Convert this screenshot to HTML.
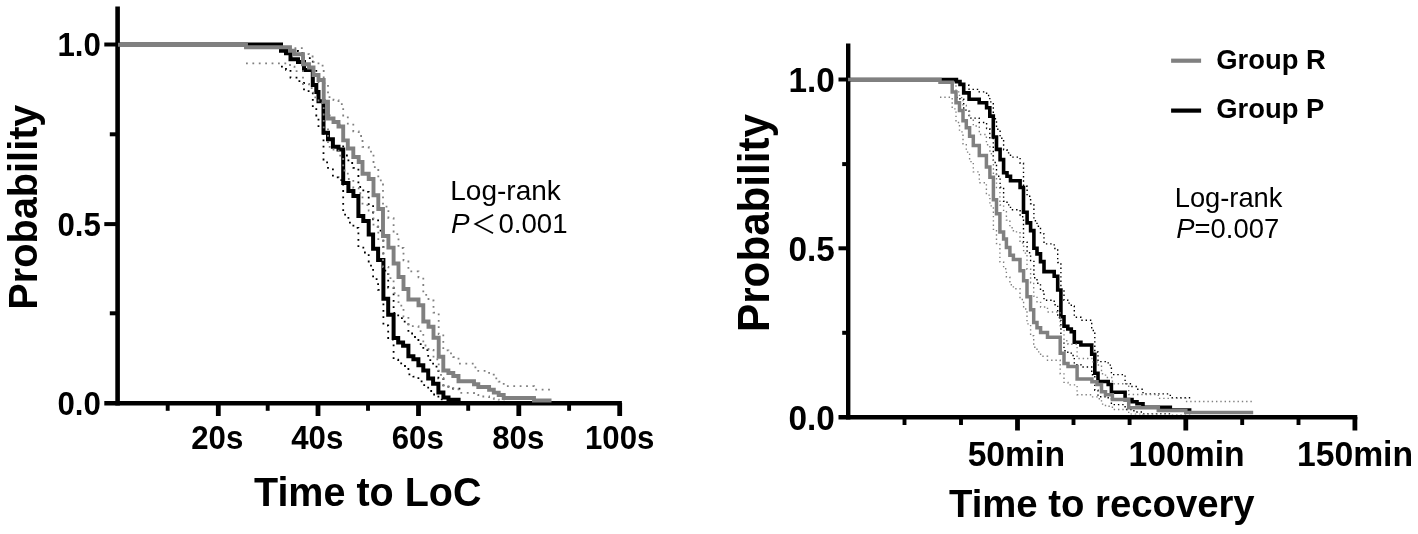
<!DOCTYPE html>
<html><head><meta charset="utf-8"><title>Kaplan-Meier curves</title>
<style>html,body{margin:0;padding:0;background:#fff}body{width:1418px;height:534px;overflow:hidden}svg{display:block}text{font-family:"Liberation Sans","Noto Sans CJK SC",sans-serif;fill:#000}.b{font-weight:bold}</style>
</head><body>
<svg width="1418" height="534" viewBox="0 0 1418 534">
<rect width="1418" height="534" fill="#fff"/>
<defs><clipPath id="cl"><rect x="120" y="0" width="580" height="400.6"/></clipPath><clipPath id="cr"><rect x="850" y="0" width="560" height="414.6"/></clipPath></defs>

<g stroke="#000" fill="none">
<path d="M117.6,6.5V405.4" stroke-width="4.6"/>
<path d="M104.3,403.2H621.9" stroke-width="4.4"/>
<path d="M104.3,44.5H117" stroke-width="4"/>
<path d="M104.3,224.1H117" stroke-width="4"/>
<path d="M109.8,134.3H117" stroke-width="4"/>
<path d="M109.8,313.3H117" stroke-width="4"/>
<path d="M218.3,403V416" stroke-width="4.8"/>
<path d="M318,403V416" stroke-width="4.8"/>
<path d="M418.5,403V416" stroke-width="4.8"/>
<path d="M518.8,403V416" stroke-width="4.8"/>
<path d="M619.7,403V416" stroke-width="4.8"/>
<path d="M167.7,403V410.8" stroke-width="3.9"/>
<path d="M267.7,403V410.8" stroke-width="3.9"/>
<path d="M368,403V410.8" stroke-width="3.9"/>
<path d="M468.2,403V410.8" stroke-width="3.9"/>
<path d="M569.1,403V410.8" stroke-width="3.9"/>
</g>
<path d="M118.0,44.6H281.0V50.8H286.0V53.2H290.5V59.3H298.0V62.0H304.0V70.0H312.8V85.0H316.3V92.0H318.5V101.3H323.5V132.7H328.0V139.3H332.9V146.8H338.5V149.5H343.2V183.0H348.4V191.0H353.4V196.0H358.4V216.0H363.3V221.0H368.7V234.5H373.1V248.7H378.1V260.0H383.4V298.8H388.2V314.7H393.6V338.0H398.2V342.6H403.1V345.8H408.4V356.2H413.4V359.2H418.4V365.3H423.3V370.4H428.2V378.5H433.1V383.8H438.4V392.6H443.4V397.5H448.5V399.7H460.6" fill="none" stroke="#000" stroke-width="4.0" stroke-linejoin="miter" stroke-linecap="butt"/>
<path d="M281.0,66.7H286.0V69.8H290.5V77.7H298.0V81.2H304.0V91.2H312.8V109.1H316.3V117.2H318.5V127.8H323.5V162.3H328.0V169.3H332.9V177.3H338.5V180.1H343.2V214.7H348.4V222.7H353.4V227.8H358.4V247.6H363.3V252.5H368.7V265.6H373.1V279.2H378.1V289.9H383.4V325.5H388.2V339.6H393.6V359.6H398.2V363.4H403.1V366.0H408.4V374.4H413.4V376.7H418.4V381.4H423.3V385.2H428.2V391.0H433.1V394.5H438.4V399.7H443.4V402.0H448.5V402.8H460.6" fill="none" stroke="#000" stroke-width="1.8" stroke-dasharray="1.8 4.6" clip-path="url(#cl)"/>
<path d="M290.5,51.0H298.0V52.8H304.0V58.2H312.8V69.5H316.3V75.1H318.5V82.7H323.5V109.6H328.0V115.4H332.9V122.1H338.5V124.6H343.2V155.5H348.4V163.0H353.4V167.8H358.4V187.0H363.3V191.9H368.7V205.2H373.1V219.3H378.1V230.6H383.4V270.7H388.2V287.6H393.6V313.0H398.2V318.1H403.1V321.7H408.4V333.5H413.4V337.0H418.4V344.1H423.3V350.2H428.2V360.1H433.1V366.7H438.4V378.4H443.4V385.3H448.5V388.6H460.6" fill="none" stroke="#000" stroke-width="1.8" stroke-dasharray="1.8 4.6" clip-path="url(#cl)"/>
<path d="M118.0,44.8H246.0V47.3H290.0V50.8H294.5V54.3H303.0V64.2H309.0V67.5H313.5V75.0H318.5V80.0H323.7V101.8H328.0V118.5H333.5V122.0H338.5V126.5H343.2V140.4H347.8V148.5H353.3V157.0H358.7V162.0H362.5V173.7H368.7V179.0H373.5V195.3H378.3V209.0H383.0V236.0H388.4V247.6H393.6V263.5H398.5V277.0H403.5V289.0H408.4V299.5H418.5V305.2H423.3V321.5H428.5V326.7H433.5V337.7H438.7V356.7H443.3V370.5H448.4V373.0H453.3V376.0H458.5V381.3H474.0V384.2H478.3V387.0H489.1V389.8H493.8V392.6H498.7V395.0H503.7V398.0H534.0V400.5H551.5" fill="none" stroke="#808080" stroke-width="3.9" stroke-linejoin="miter" stroke-linecap="butt"/>
<path d="M246.0,63.3H290.0V66.7H294.5V71.2H303.0V84.0H309.0V88.1H313.5V97.3H318.5V103.2H323.7V128.4H328.0V146.9H333.5V150.7H338.5V155.6H343.2V170.5H347.8V179.0H353.3V187.9H358.7V193.1H362.5V205.2H368.7V210.6H373.5V227.0H378.3V240.7H383.0V267.0H388.4V278.1H393.6V293.2H398.5V305.7H403.5V316.7H408.4V326.2H418.5V331.2H423.3V345.5H428.5V350.0H433.5V359.3H438.7V374.8H443.3V385.3H448.4V387.1H453.3V389.2H458.5V392.9H474.0V394.8H478.3V396.5H489.1V398.2H493.8V399.7H498.7V400.9H503.7V402.2H534.0V403.0H551.5" fill="none" stroke="#808080" stroke-width="1.8" stroke-dasharray="1.8 4.6" clip-path="url(#cl)"/>
<path d="M294.5,48.1H303.0V54.2H309.0V56.5H313.5V61.9H318.5V65.7H323.7V83.1H328.0V97.2H333.5V100.2H338.5V104.1H343.2V116.4H347.8V123.7H353.3V131.4H358.7V136.0H362.5V146.8H368.7V151.7H373.5V167.1H378.3V180.3H383.0V206.6H388.4V218.2H393.6V234.2H398.5V248.0H403.5V260.4H408.4V271.4H418.5V277.4H423.3V294.9H428.5V300.5H433.5V312.6H438.7V334.1H443.3V350.3H448.4V353.3H453.3V357.0H458.5V363.6H474.0V367.3H478.3V370.9H489.1V374.6H493.8V378.4H498.7V381.7H503.7V386.1H534.0V389.7H551.5" fill="none" stroke="#808080" stroke-width="1.8" stroke-dasharray="1.8 4.6" clip-path="url(#cl)"/>
<text class="b" font-size="31.2" text-anchor="end" transform="translate(100.8,56.1) scale(1,1.06)">1.0</text>
<text class="b" font-size="31.2" text-anchor="end" transform="translate(100.8,236.0) scale(1,1.06)">0.5</text>
<text class="b" font-size="31.2" text-anchor="end" transform="translate(100.8,414.9) scale(1,1.06)">0.0</text>
<text class="b" font-size="31.2" text-anchor="middle" transform="translate(217.2,449.1) scale(1,1.04)">20s</text>
<text class="b" font-size="31.2" text-anchor="middle" transform="translate(317.2,449.1) scale(1,1.04)">40s</text>
<text class="b" font-size="31.2" text-anchor="middle" transform="translate(417.7,449.1) scale(1,1.04)">60s</text>
<text class="b" font-size="31.2" text-anchor="middle" transform="translate(518.2,449.1) scale(1,1.04)">80s</text>
<text class="b" font-size="31.2" text-anchor="middle" transform="translate(619.7,449.1) scale(1,1.04)">100s</text>
<text class="b" font-size="39.5" text-anchor="middle" transform="translate(367.7,506.2) scale(1,1.04)">Time to LoC</text>
<text class="b" font-size="39.7" text-anchor="middle" transform="translate(36.8,207.1) rotate(-90) scale(1,1.045)">Probability</text>
<text font-size="28.0" text-anchor="start" transform="translate(450.3,200.1) scale(1,1.0)">Log-rank</text>
<text font-size="27.9" text-anchor="start" transform="translate(451.0,232.5) scale(1,1.0)"><tspan font-style="italic">P</tspan><tspan font-size="25.7" dx="1.1" dy="1.7">＜</tspan><tspan font-size="27.6" dx="2.1" dy="-1.7">0.001</tspan></text>
<g stroke="#000" fill="none">
<path d="M848.2,43.4V419.4" stroke-width="4.4"/>
<path d="M838.5,417.2H1357.3" stroke-width="4.4"/>
<path d="M838.5,79.5H848" stroke-width="4"/>
<path d="M838.5,248.3H848" stroke-width="4"/>
<path d="M842.2,164.1H848" stroke-width="4"/>
<path d="M842.2,332.8H848" stroke-width="4"/>
<path d="M1017.5,417V430.5" stroke-width="4.8"/>
<path d="M1185.8,417V430.5" stroke-width="4.8"/>
<path d="M1354.9,417V430.5" stroke-width="4.8"/>
<path d="M904.5,417V425" stroke-width="3.9"/>
<path d="M961,417V425" stroke-width="3.9"/>
<path d="M1073.5,417V425" stroke-width="3.9"/>
<path d="M1129.6,417V425" stroke-width="3.9"/>
<path d="M1242.2,417V425" stroke-width="3.9"/>
<path d="M1298.5,417V425" stroke-width="3.9"/>
</g>
<path d="M848.0,79.6H956.4V81.6H960.0V84.4H963.7V92.9H969.1V99.2H979.2V102.7H986.6V107.7H989.8V116.1H993.3V137.0H996.5V149.4H1000.1V159.6H1003.6V172.7H1007.0V176.2H1010.5V180.8H1020.1V187.5H1023.5V212.3H1027.1V222.9H1030.6V230.6H1033.9V248.2H1037.0V253.9H1040.5V261.6H1044.0V271.6H1054.2V276.2H1057.7V290.0H1060.9V316.8H1064.0V326.3H1067.8V329.0H1071.3V331.8H1074.3V342.2H1080.9V345.0H1091.7V354.2H1094.8V373.3H1098.0V381.5H1108.2V384.5H1111.4V392.3H1125.1V399.6H1132.0V401.7H1137.0V403.8H1143.0V407.3H1170.3V410.0H1191.4" fill="none" stroke="#000" stroke-width="3.6" stroke-linejoin="miter" stroke-linecap="butt"/>
<path d="M956.4,97.4H960.0V99.1H963.7V110.1H969.1V118.1H979.2V122.5H986.6V128.6H989.8V138.6H993.3V162.5H996.5V176.2H1000.1V187.2H1003.6V201.2H1007.0V204.9H1010.5V209.7H1020.1V216.7H1023.5V242.1H1027.1V252.8H1030.6V260.5H1033.9V277.8H1037.0V283.3H1040.5V290.8H1044.0V300.3H1054.2V304.7H1057.7V317.6H1060.9V342.2H1064.0V350.7H1067.8V353.1H1071.3V355.5H1074.3V364.6H1080.9V367.0H1091.7V374.8H1094.8V390.3H1098.0V396.7H1108.2V398.9H1111.4V404.6H1125.1V409.5H1132.0V410.8H1137.0V412.0H1143.0V414.0H1170.3V415.3H1191.4" fill="none" stroke="#000" stroke-width="1.4" stroke-dasharray="1.4 2.9" clip-path="url(#cr)"/>
<path d="M963.7,85.3H969.1V89.4H979.2V91.9H986.6V95.5H989.8V101.9H993.3V118.8H996.5V129.3H1000.1V138.2H1003.6V149.8H1007.0V152.9H1010.5V157.1H1020.1V163.2H1023.5V186.3H1027.1V196.3H1030.6V203.7H1033.9V220.7H1037.0V226.3H1040.5V233.9H1044.0V243.9H1054.2V248.5H1057.7V262.5H1060.9V290.2H1064.0V300.2H1067.8V303.1H1071.3V306.1H1074.3V317.3H1080.9V320.3H1091.7V330.5H1094.8V352.0H1098.0V361.6H1108.2V365.1H1111.4V374.6H1125.1V383.7H1132.0V386.5H1137.0V389.2H1143.0V393.9H1170.3V397.7H1191.4" fill="none" stroke="#000" stroke-width="1.4" stroke-dasharray="1.4 2.9" clip-path="url(#cr)"/>
<path d="M848.0,79.6H940.0V82.3H952.2V92.0H956.0V102.7H959.5V110.5H963.0V120.7H966.3V127.8H969.6V136.2H973.3V145.5H979.3V155.4H986.4V167.0H989.9V177.2H993.4V199.8H996.5V213.7H999.9V232.0H1003.6V239.0H1006.4V247.5H1009.9V255.3H1013.4V259.5H1020.0V270.7H1023.6V280.8H1027.0V296.7H1030.6V309.7H1033.7V322.4H1037.0V327.7H1040.6V332.6H1047.5V337.3H1060.2V353.2H1064.0V363.4H1068.0V366.5H1077.1V378.9H1091.9V381.8H1097.0V384.4H1101.5V391.7H1105.5V394.7H1112.4V399.6H1128.7V407.7H1158.3V410.5H1185.8V412.6H1253.2" fill="none" stroke="#808080" stroke-width="3.5" stroke-linejoin="miter" stroke-linecap="butt"/>
<path d="M940.0,97.3H952.2V108.9H956.0V122.5H959.5V131.9H963.0V143.9H966.3V152.1H969.6V161.6H973.3V171.9H979.3V182.7H986.4V195.1H989.9V205.9H993.4V229.4H996.5V243.5H999.9V261.9H1003.6V268.8H1006.4V277.1H1009.9V284.7H1013.4V288.7H1020.0V299.5H1023.6V309.0H1027.0V323.9H1030.6V335.8H1033.7V347.2H1037.0V351.9H1040.6V356.2H1047.5V360.3H1060.2V373.9H1064.0V382.4H1068.0V384.9H1077.1V394.7H1091.9V396.9H1097.0V398.8H1101.5V404.1H1105.5V406.2H1112.4V409.5H1128.7V414.2H1158.3V415.5H1185.8V416.4H1253.2" fill="none" stroke="#808080" stroke-width="1.4" stroke-dasharray="1.4 2.9" clip-path="url(#cr)"/>
<path d="M952.2,84.8H956.0V91.9H959.5V97.6H963.0V105.5H966.3V111.2H969.6V118.1H973.3V126.0H979.3V134.5H986.4V144.7H989.9V153.8H993.4V174.6H996.5V187.6H999.9V205.0H1003.6V211.8H1006.4V220.1H1009.9V227.7H1013.4V231.9H1020.0V243.0H1023.6V253.1H1027.0V269.3H1030.6V282.8H1033.7V296.1H1037.0V301.7H1040.6V307.0H1047.5V312.0H1060.2V329.3H1064.0V340.7H1068.0V344.2H1077.1V358.5H1091.9V361.9H1097.0V365.0H1101.5V373.8H1105.5V377.5H1112.4V383.7H1128.7V394.5H1158.3V398.4H1185.8V401.5H1253.2" fill="none" stroke="#808080" stroke-width="1.4" stroke-dasharray="1.4 2.9" clip-path="url(#cr)"/>
<text class="b" font-size="33.3" text-anchor="end" transform="translate(834.8,91.7) scale(1,1.04)">1.0</text>
<text class="b" font-size="33.3" text-anchor="end" transform="translate(834.8,260.7) scale(1,1.04)">0.5</text>
<text class="b" font-size="33.3" text-anchor="end" transform="translate(834.8,430.1) scale(1,1.04)">0.0</text>
<text class="b" font-size="33.7" text-anchor="middle" transform="translate(1016.3,465.5) scale(1,1.02)">50min</text>
<text class="b" font-size="33.7" text-anchor="middle" transform="translate(1186.6,465.5) scale(1,1.02)">100min</text>
<text class="b" font-size="33.7" text-anchor="middle" transform="translate(1355,465.5) scale(1,1.02)">150min</text>
<text class="b" font-size="38.3" text-anchor="middle" transform="translate(1101.8,517.2) scale(1,1.02)">Time to recovery</text>
<text class="b" font-size="42.2" text-anchor="middle" transform="translate(769.1,222.95) rotate(-90) scale(1,1.045)">Probability</text>
<text font-size="27.3" text-anchor="start" transform="translate(1174.7,207) scale(1,1.0)">Log-rank</text>
<text font-size="27.4" text-anchor="start" transform="translate(1176.3,237.7) scale(1,1.0)"><tspan font-style="italic">P</tspan>=0.007</text>
<path d="M1171.1,60.7H1201.1" stroke="#808080" stroke-width="4.2" fill="none"/>
<path d="M1171.1,110.6H1201.1" stroke="#000" stroke-width="4.2" fill="none"/>
<text class="b" font-size="27.4" text-anchor="start" transform="translate(1216.3,68.7) scale(1,1.0)">Group R</text>
<text class="b" font-size="27.4" text-anchor="start" transform="translate(1216.3,118.1) scale(1,1.0)">Group P</text>
</svg></body></html>
